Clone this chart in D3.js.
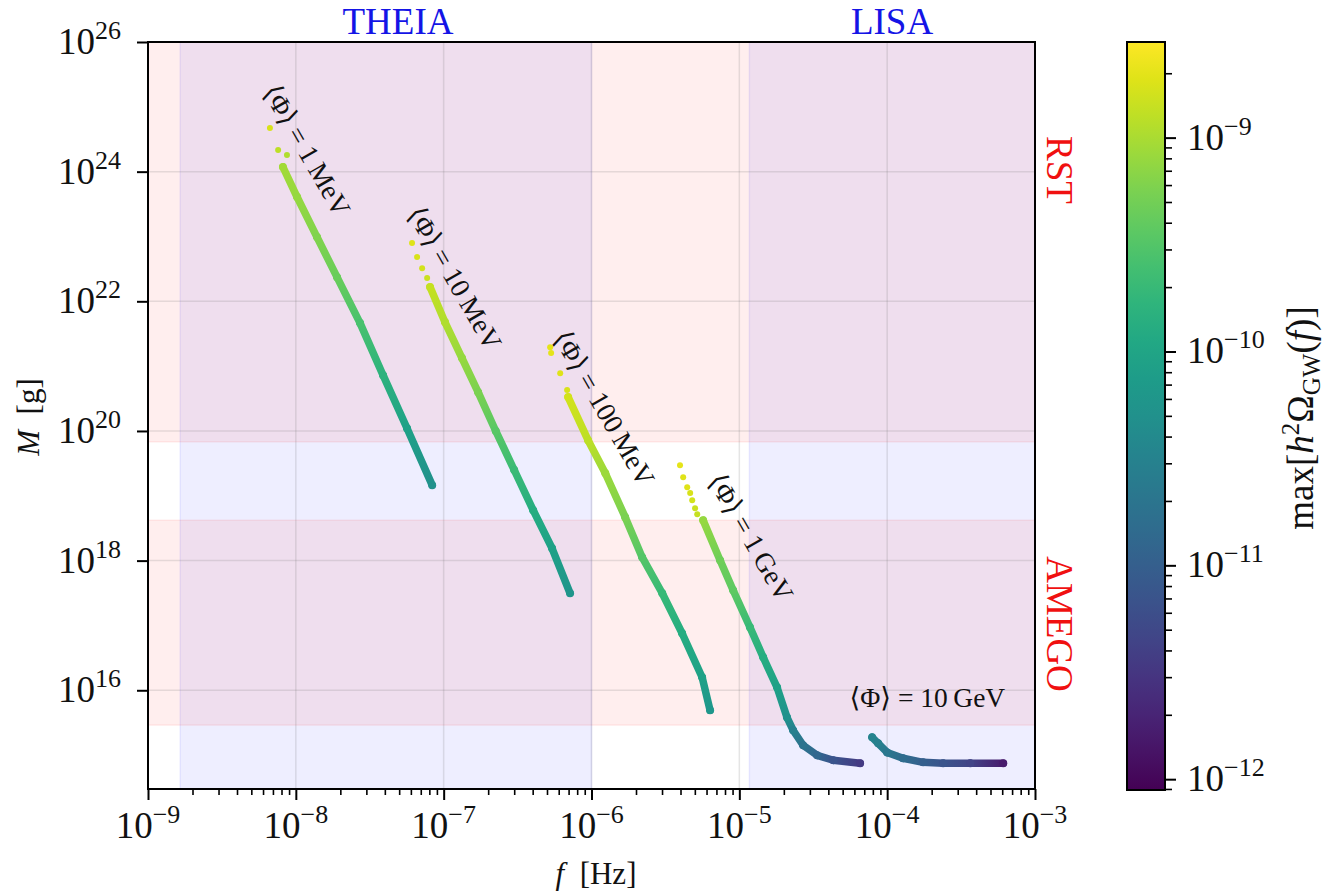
<!DOCTYPE html>
<html>
<head>
<meta charset="utf-8">
<script src="https://cdn.jsdelivr.net/npm/d3@7"></script>
<style>
body { margin: 0; background: #fff; }
text { font-family: "Liberation Serif", "DejaVu Serif", serif; fill: #111; }
</style>
</head>
<body>
<script>
// ---- data ----
var phiLabels = ["1\u2009MeV", "10\u2009MeV", "100\u2009MeV", "1\u2009GeV", "10\u2009GeV"];

// <Phi> = 1 MeV
var f_1MeV  = [6.68e-9, 7.59e-9, 8.71e-9, 8.18e-9, 1.02e-8, 1.39e-8, 1.90e-8, 2.72e-8, 3.89e-8, 5.65e-8, 8.36e-8];
var M_1MeV  = [4.71e24, 2.15e24, 1.80e24, 1.18e24, 4.06e23, 9.8e22, 2.36e22, 4.61e21, 7.26e20, 1.10e20, 1.46e19];
var om_1MeV = [1.74e-9, 1.26e-9, 1.07e-9, 9.1e-10, 7.8e-10, 6.1e-10, 4.4e-10, 2.7e-10, 1.55e-10, 8.8e-11, 5.0e-11];

// <Phi> = 10 MeV
var f_10MeV  = [6.11e-8, 6.61e-8, 7.15e-8, 7.73e-8, 8.09e-8, 1.02e-7, 1.33e-7, 1.71e-7, 2.25e-7, 3.00e-7, 4.03e-7, 5.41e-7, 7.16e-7];
var M_10MeV  = [7.91e22, 4.81e22, 3.25e22, 2.28e22, 1.66e22, 4.78e21, 1.33e21, 3.97e20, 1.0e20, 2.5e19, 6.0e18, 1.55e18, 3.14e17];
var om_10MeV = [1.88e-9, 1.74e-9, 1.60e-9, 1.48e-9, 1.36e-9, 1.07e-9, 7.8e-10, 5.6e-10, 3.5e-10, 2.1e-10, 1.32e-10, 8.8e-11, 5.9e-11];

// <Phi> = 100 MeV
var f_100MeV  = [5.25e-7, 5.33e-7, 6.14e-7, 6.84e-7, 6.95e-7, 9.48e-7, 1.24e-6, 1.69e-6, 2.20e-6, 3.01e-6, 4.10e-6, 5.60e-6, 6.34e-6];
var M_100MeV  = [1.96e21, 1.59e21, 7.80e20, 4.27e20, 3.33e20, 7.21e19, 2.23e19, 4.68e18, 1.13e18, 3.14e17, 7.59e16, 1.59e16, 4.91e15];
var om_100MeV = [2.04e-9, 2.04e-9, 1.88e-9, 1.74e-9, 1.60e-9, 1.26e-9, 8.4e-10, 5.6e-10, 3.2e-10, 2.0e-10, 1.32e-10, 8.8e-11, 6.4e-11];

// <Phi> = 1 GeV
var f_1GeV  = [3.97e-6, 4.17e-6, 4.44e-6, 4.65e-6, 4.80e-6, 5.02e-6, 5.19e-6,
               5.69e-6, 7.41e-6, 9.08e-6, 1.18e-5, 1.45e-5, 1.80e-5, 2.10e-5, 2.31e-5, 2.70e-5, 3.36e-5, 4.32e-5, 6.56e-5];
var M_1GeV  = [2.97e19, 1.94e19, 1.36e19, 1.10e19, 8.55e18, 6.44e18, 5.20e18,
               4.20e18, 1.01e18, 3.49e17, 9.38e16, 3.23e16, 1.11e16, 3.83e15, 2.42e15, 1.42e15, 9.93e14, 8.32e14, 7.47e14];
var om_1GeV = [2.04e-9, 1.88e-9, 1.88e-9, 1.74e-9, 1.60e-9, 1.48e-9, 1.36e-9,
               7.8e-10, 4.8e-10, 3.8e-10, 2.0e-10, 1.32e-10, 8.8e-11, 5.0e-11, 2.85e-11, 1.9e-11, 1.27e-11, 7.2e-12, 3.5e-12];

// <Phi> = 10 GeV
var f_10GeV  = [7.91e-5, 8.69e-5, 1.00e-4, 1.28e-4, 1.75e-4, 2.39e-4, 3.65e-4, 6.10e-4];
var M_10GeV  = [1.88e15, 1.52e15, 1.10e15, 8.93e14, 7.74e14, 7.47e14, 7.47e14, 7.47e14];
var om_10GeV = [3.3e-11, 2.85e-11, 2.2e-11, 1.5e-11, 1.0e-11, 7.2e-12, 4.5e-12, 1.57e-12];

// how many leading points are isolated dots in each series
var looseDots = [3, 4, 4, 7, 0];

// label anchors (centre of each label, data coords)
var labelF = [1.19e-8, 1.19e-7, 1.22e-6, 1.20e-5, 1.87e-4];
var labelM = [2.15e24, 2.28e22, 2.25e20, 2.30e18, 7.8e15];

// sensitivity bands
var freqBandNames = ["THEIA", "LISA"];
var freqBandLo = [1.65e-9, 1.17e-5];
var freqBandHi = [1e-6, 1e-3];
var massBandNames = ["RST", "AMEGO"];
var massBandLo = [6.8e19, 2.9e15];
var massBandHi = [1e27, 4.2e18];

var xTicks = [1e-9, 1e-8, 1e-7, 1e-6, 1e-5, 1e-4, 1e-3];
var yTicks = [1e16, 1e18, 1e20, 1e22, 1e24, 1e26];
var cTicks = [1e-12, 1e-11, 1e-10, 1e-9];

// ---- layout ----
var margin = {top: 42, left: 148},
    width = 887,
    height = 747;

var svg = d3.select("body").append("svg")
            .attr('width', 1327)
            .attr('height', 892);
var defs = svg.append("defs");

var x = d3.scaleLog().domain([1e-9, 1e-3]).range([0, width]);
var y = d3.scaleLog().domain([3e14, 1e26]).range([height, 0]);
var cNorm = d3.scaleLog().domain([8.9e-13, 2.8e-9]).range([0, 1]).clamp(true);
function col(v){ return d3.interpolateViridis(cNorm(v)); }

defs.append("clipPath").attr('id', "plotclip")
    .append("rect").attr('width', width).attr('height', height);

var g = svg.append("g").attr('transform', "translate(" + margin.left + "," + margin.top + ")");
var bands = g.append("g").attr('clip-path', "url(#plotclip)");

// frequency bands (blue) then mass bands (red)
freqBandNames.forEach(function(n, i){
    bands.append("rect")
        .attr('x', x(freqBandLo[i]))
        .attr('y', -2)
        .attr('width', x(freqBandHi[i]) - x(freqBandLo[i]))
        .attr('height', height + 4)
        .style('fill', "#0000ff").style('fill-opacity', 0.065)
        .style('stroke', "#0000ff").style('stroke-opacity', 0.07).style('stroke-width', 1.5);
});
massBandNames.forEach(function(n, i){
    bands.append("rect")
        .attr('x', -2)
        .attr('y', y(massBandHi[i]))
        .attr('width', width + 4)
        .attr('height', y(massBandLo[i]) - y(massBandHi[i]))
        .style('fill', "#ff0000").style('fill-opacity', 0.065)
        .style('stroke', "#ff0000").style('stroke-opacity', 0.07).style('stroke-width', 1.5);
});

// grid
var grid = g.append("g");
grid.selectAll("line.gx").data(xTicks).enter().append("line")
    .attr('x1', function(d){ return x(d); }).attr('x2', function(d){ return x(d); })
    .attr('y1', 0).attr('y2', height)
    .style('stroke', "#707070").style('stroke-opacity', 0.18).style('stroke-width', 1.5);
grid.selectAll("line.gy").data(yTicks).enter().append("line")
    .attr('y1', function(d){ return y(d); }).attr('y2', function(d){ return y(d); })
    .attr('x1', 0).attr('x2', width)
    .style('stroke', "#707070").style('stroke-opacity', 0.18).style('stroke-width', 1.5);

// curves
var series = [
    [f_1MeV, M_1MeV, om_1MeV],
    [f_10MeV, M_10MeV, om_10MeV],
    [f_100MeV, M_100MeV, om_100MeV],
    [f_1GeV, M_1GeV, om_1GeV],
    [f_10GeV, M_10GeV, om_10GeV]
];
var curveG = g.append("g").attr('clip-path', "url(#plotclip)");
series.forEach(function(s, si){
    var pts = s[0].map(function(f, i){ return {f: f, M: s[1][i], om: s[2][i]}; });
    for (var i = looseDots[si]; i < pts.length - 1; i++) {
        var a = pts[i], b = pts[i+1];
        var gid = "seg" + si + "_" + i;
        var lg = defs.append("linearGradient").attr('id', gid)
            .attr('gradientUnits', "userSpaceOnUse")
            .attr('x1', x(a.f)).attr('y1', y(a.M)).attr('x2', x(b.f)).attr('y2', y(b.M));
        lg.append("stop").attr('offset', 0).attr('stop-color', col(a.om));
        lg.append("stop").attr('offset', 1).attr('stop-color', col(b.om));
        curveG.append("line")
            .attr('x1', x(a.f)).attr('y1', y(a.M)).attr('x2', x(b.f)).attr('y2', y(b.M))
            .style('stroke', "url(#" + gid + ")")
            .style('stroke-width', 7.5)
            .style('stroke-linecap', "round");
    }
    curveG.selectAll("circle.s" + si).data(pts).enter().append("circle")
        .attr('cx', function(d){ return x(d.f); })
        .attr('cy', function(d){ return y(d.M); })
        .attr('r', function(d, i){ return i < looseDots[si] ? 3 : 4; })
        .style('fill', function(d){ return col(d.om); });
});

// curve labels
phiLabels.forEach(function(l, i){
    var px = x(labelF[i]), py = y(labelM[i]);
    g.append("text")
        .attr('transform', "translate(" + px + "," + py + ")" + (i < 4 ? " rotate(60)" : ""))
        .attr('text-anchor', "middle")
        .attr('dominant-baseline', "central")
        .style('font-size', "27.5px")
        .text("\u27E8\u03A6\u27E9 = " + l);
});

// superscript tick label helper
function powText(sel, e){
    sel.append("tspan").text("10");
    sel.append("tspan").attr('dy', -15).style('font-size', "26px")
        .text(e < 0 ? "\u2212" + (-e) : "" + e);
}

// x axis
var xMinor = [];
for (var d = -9; d < -3; d++) for (var k = 2; k < 10; k++) xMinor.push(k * Math.pow(10, d));
g.append("g").attr('transform', "translate(0," + height + ")")
    .call(d3.axisBottom(x).tickValues(xMinor).tickSize(6).tickFormat(""))
    .call(function(a){ a.select(".domain").remove(); a.selectAll("line").style('stroke-width', 1.6); });
g.append("g").attr('transform', "translate(0," + height + ")")
    .call(d3.axisBottom(x).tickValues(xTicks).tickSize(11).tickFormat(""))
    .call(function(a){ a.select(".domain").remove(); a.selectAll("line").style('stroke-width', 2); });
xTicks.forEach(function(t){
    var tx = g.append("text").attr('x', x(t)).attr('y', height + 49)
        .attr('text-anchor', "middle").style('font-size', "37px");
    powText(tx, Math.round(Math.log10(t)));
});

// y axis
g.append("g")
    .call(d3.axisLeft(y).tickValues(yTicks).tickSize(11).tickFormat(""))
    .call(function(a){ a.select(".domain").remove(); a.selectAll("line").style('stroke-width', 2); });
yTicks.forEach(function(t){
    var ty = g.append("text").attr('x', -27).attr('y', y(t) + 12)
        .attr('text-anchor', "end").style('font-size', "37px");
    powText(ty, Math.round(Math.log10(t)));
});

// frame
g.append("rect").attr('width', width).attr('height', height)
    .style('fill', "none").style('stroke', "#000").style('stroke-width', 2);

// axis labels
var yl = svg.append("text").attr('transform', "translate(39,417) rotate(-90)")
    .attr('text-anchor', "middle").style('font-size', "31px");
yl.append("tspan").style('font-style', "italic").text("M");
yl.append("tspan").text("\u2002[g]");
var xl = svg.append("text").attr('x', 596).attr('y', 884)
    .attr('text-anchor', "middle").style('font-size', "31px");
xl.append("tspan").style('font-style', "italic").text("f");
xl.append("tspan").text("\u2002[Hz]");

// band names
svg.append("text").attr('x', 398).attr('y', 34).attr('text-anchor', "middle")
    .style('font-size', "37px").style('fill', "#1414e6").text(freqBandNames[0]);
svg.append("text").attr('x', 892).attr('y', 34).attr('text-anchor', "middle")
    .style('font-size', "37px").style('fill', "#1414e6").text(freqBandNames[1]);
svg.append("text").attr('transform', "translate(1047,170) rotate(90)").attr('text-anchor', "middle")
    .style('font-size', "37px").style('fill', "#f01010").text(massBandNames[0]);
svg.append("text").attr('transform', "translate(1047,624) rotate(90)").attr('text-anchor', "middle")
    .style('font-size', "37px").style('fill', "#f01010").text(massBandNames[1]);

// colorbar
var cb = {x: 1127, y: 42, w: 38, h: 748};
var cScale = d3.scaleLog().domain(cNorm.domain()).range([cb.h, 0]);
var cg = defs.append("linearGradient").attr('id', "cbgrad")
    .attr('x1', 0).attr('y1', 1).attr('x2', 0).attr('y2', 0);
d3.range(0, 1.0001, 0.05).forEach(function(t){
    cg.append("stop").attr('offset', t).attr('stop-color', d3.interpolateViridis(t));
});
var cbg = svg.append("g").attr('transform', "translate(" + cb.x + "," + cb.y + ")");
cbg.append("rect").attr('width', cb.w).attr('height', cb.h).style('fill', "url(#cbgrad)");
var cMinor = [];
for (var e = -13; e < -8; e++) for (var k2 = 2; k2 < 10; k2++) {
    var v = k2 * Math.pow(10, e);
    if (v > cNorm.domain()[0] && v < cNorm.domain()[1]) cMinor.push(v);
}
cbg.append("g").attr('transform', "translate(" + cb.w + ",0)")
    .call(d3.axisRight(cScale).tickValues(cMinor).tickSize(7).tickFormat(""))
    .call(function(a){ a.select(".domain").remove(); a.selectAll("line").style('stroke-width', 1.6); });
cbg.append("g").attr('transform', "translate(" + cb.w + ",0)")
    .call(d3.axisRight(cScale).tickValues(cTicks).tickSize(11).tickFormat(""))
    .call(function(a){ a.select(".domain").remove(); a.selectAll("line").style('stroke-width', 2); });
cTicks.forEach(function(t){
    var tc = cbg.append("text").attr('x', cb.w + 22).attr('y', cScale(t) + 12)
        .style('font-size', "37px");
    powText(tc, Math.round(Math.log10(t)));
});
cbg.append("rect").attr('width', cb.w).attr('height', cb.h)
    .style('fill', "none").style('stroke', "#000").style('stroke-width', 2);

// colorbar label
var cl = svg.append("text").attr('transform', "translate(1313,418) rotate(-90)")
    .attr('text-anchor', "middle").style('font-size', "37px");
cl.append("tspan").text("max[");
cl.append("tspan").style('font-style', "italic").text("h");
cl.append("tspan").attr('dy', -14).style('font-size', "25px").text("2");
cl.append("tspan").attr('dy', 14).text("\u03A9");
cl.append("tspan").attr('dy', 7).style('font-size', "25px").text("GW");
cl.append("tspan").attr('dy', -7).text("(");
cl.append("tspan").style('font-style', "italic").text("f");
cl.append("tspan").text(")]");
</script>
</body>
</html>
